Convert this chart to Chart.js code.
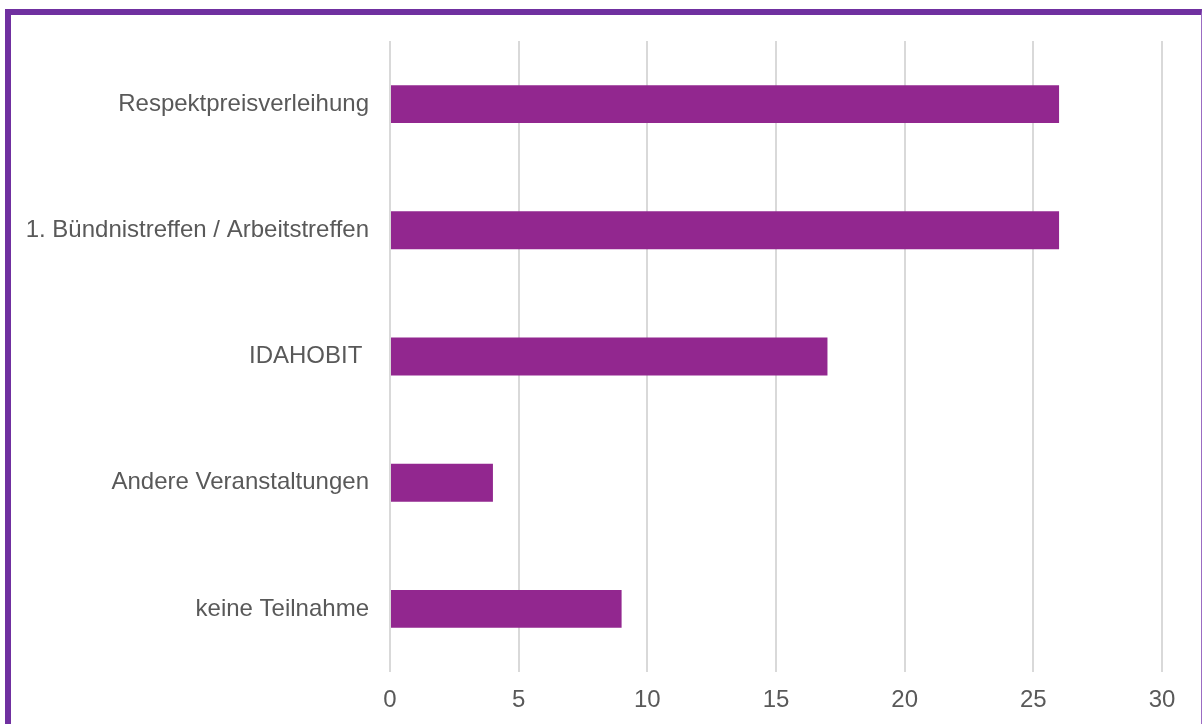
<!DOCTYPE html>
<html>
<head>
<meta charset="utf-8">
<script src="https://cdn.jsdelivr.net/npm/chart.js@4"></script>
<style>
  html, body { margin: 0; padding: 0; background: #fff; overflow: hidden; }
  #wrap { position: relative; width: 1203px; height: 724px; }
  #chart { position: absolute; left: 0; top: 0; }
  #frame {
    position: absolute; left: 5px; top: 9px; width: 1190px; height: 800px;
    border-top: 6px solid #7030a0; border-left: 6px solid #7030a0;
    border-right: 1px solid #9b6cc3; pointer-events: none;
  }
</style>
</head>
<body>
<div id="wrap">
  <canvas id="chart" width="1203" height="724"></canvas>
  <div id="frame"></div>
</div>
<script>
const categories = [
  "Respektpreisverleihung",
  "1. Bündnistreffen / Arbeitstreffen",
  "IDAHOBIT ",
  "Andere Veranstaltungen",
  "keine Teilnahme",
];
const counts = [26, 26, 17, 4, 9];
const xMax = 30;
const xStep = 5;

const ctx = document.getElementById("chart").getContext("2d");
new Chart(ctx, {
  type: "bar",
  data: {
    labels: categories,
    datasets: [
      {
        data: counts,
        backgroundColor: "#92278f",
        barPercentage: 0.3,
        categoryPercentage: 1,
      },
    ],
  },
  options: {
    indexAxis: "y",
    responsive: false,
    animation: false,
    layout: { padding: { top: 41, right: 41, left: 0, bottom: 0 } },
    plugins: { legend: { display: false }, tooltip: { enabled: false } },
    scales: {
      x: {
        min: 0,
        max: xMax,
        ticks: {
          stepSize: xStep,
          color: "#595959",
          font: { family: "Liberation Sans, Arial", size: 24 },
          padding: 14,
        },
        grid: { color: "#d9d9d9", lineWidth: 2, drawTicks: false },
        border: { display: false },
        afterFit: (scale) => {
          scale.height = 52;
        },
      },
      y: {
        ticks: {
          color: "#595959",
          font: { family: "Liberation Sans, Arial", size: 24 },
          padding: 21,
        },
        grid: { display: false, drawTicks: false },
        border: { display: false },
        afterFit: (scale) => {
          scale.width = 390;
        },
      },
    },
  },
});
</script>
</body>
</html>
